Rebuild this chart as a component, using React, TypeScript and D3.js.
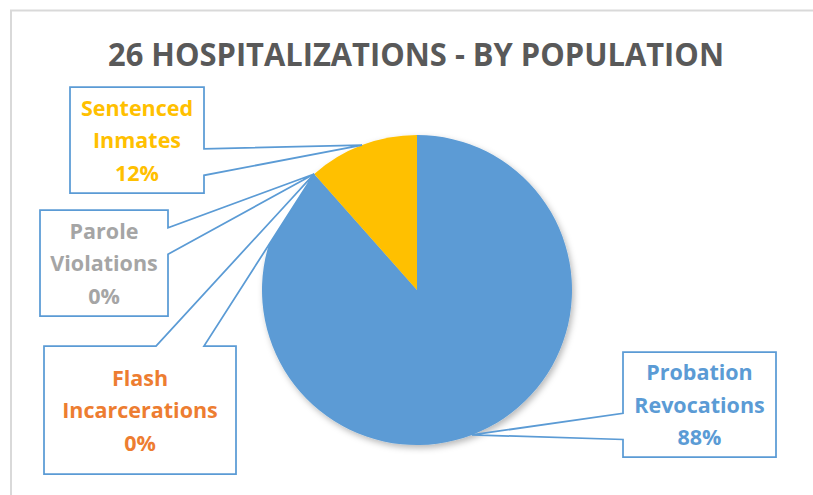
import React from "react";
import * as d3 from "d3";

const title = "26 HOSPITALIZATIONS - BY POPULATION";
const categories = ["Probation Revocations", "Flash Incarcerations", "Parole Violations", "Sentenced Inmates"];
const labelLines = [["Probation", "Revocations"], ["Flash", "Incarcerations"], ["Parole", "Violations"], ["Sentenced", "Inmates"]];
const values = [23, 0, 0, 3];
const sliceColors = ["#5B9BD5", "#ED7D31", "#A5A5A5", "#FFC000"];

// callout box layout (x, y, w, h)
const boxes = [
  { x: 623, y: 352, w: 153, h: 105 },
  { x: 44, y: 346, w: 192, h: 128 },
  { x: 40, y: 210, w: 128, h: 106 },
  { x: 70, y: 87, w: 134, h: 106 },
];

const W = 813;
const H = 495;
const cx = 417;
const cy = 290;
const R = 155;
const lineGap = 32.5;

function calloutPath(b: { x: number; y: number; w: number; h: number }, tx: number, ty: number) {
  const hc = b.x + b.w / 2;
  const vc = b.y + b.h / 2;
  const dx = tx - hc;
  const dy = ty - vc;
  const nx = Math.abs(dx) / b.w;
  const ny = Math.abs(dy) / b.h;
  const x0 = b.x, y0 = b.y, x1 = b.x + b.w, y1 = b.y + b.h;
  const fx = dx > 0 ? [7, 10] : [2, 5];
  const fy = dy > 0 ? [7, 10] : [2, 5];
  const xa = b.x + (b.w * fx[0]) / 12, xb = b.x + (b.w * fx[1]) / 12;
  const ya = b.y + (b.h * fy[0]) / 12, yb = b.y + (b.h * fy[1]) / 12;
  let pts: [number, number][];
  if (nx >= ny) {
    if (dx > 0) {
      pts = [[x0, y0], [x1, y0], [x1, ya], [tx, ty], [x1, yb], [x1, y1], [x0, y1]];
    } else {
      pts = [[x0, y0], [x1, y0], [x1, y1], [x0, y1], [x0, yb], [tx, ty], [x0, ya]];
    }
  } else {
    if (dy < 0) {
      pts = [[x0, y0], [xa, y0], [tx, ty], [xb, y0], [x1, y0], [x1, y1], [x0, y1]];
    } else {
      pts = [[x0, y0], [x1, y0], [x1, y1], [xb, y1], [tx, ty], [xa, y1], [x0, y1]];
    }
  }
  return "M" + pts.map((p) => p[0].toFixed(1) + "," + p[1].toFixed(1)).join("L") + "Z";
}

export default function App() {
  const total = d3.sum(values);
  const pie = d3.pie<number>().sort(null).value((d) => d);
  const arcs = pie(values);
  const arc = d3.arc<d3.PieArcDatum<number>>().innerRadius(0).outerRadius(R);
  const pct = d3.format(".0%");

  return (
    <svg width={W} height={H} style={{ position: "absolute", left: 0, top: 0, background: "#fff" }}
      fontFamily="'Open Sans', sans-serif">
      <defs>
        <filter id="shadow" x="-20%" y="-20%" width="140%" height="140%">
          <feDropShadow dx="2" dy="3" stdDeviation="3" floodColor="#000" floodOpacity="0.28" />
        </filter>
      </defs>
      <rect x={0} y={0} width={W} height={H} fill="#fff" />
      <rect x={11} y={10.5} width={W + 20} height={H + 20} fill="none" stroke="#D9D9D9" strokeWidth={2} />
      <text x={416} y={66} textAnchor="middle" fontSize={32} fontWeight={700} fill="#595959"
        textLength={616} lengthAdjust="spacingAndGlyphs">{title}</text>
      <g transform={`translate(${cx},${cy})`} filter="url(#shadow)">
        {arcs.map((a, i) => (
          <path key={categories[i]} d={arc(a) || ""} fill={sliceColors[i]} />
        ))}
      </g>
      {arcs.map((a, i) => {
        const mid = (a.startAngle + a.endAngle) / 2;
        const tx = cx + R * Math.sin(mid);
        const ty = cy - R * Math.cos(mid);
        const b = boxes[i];
        const lines = [...labelLines[i], pct(values[i] / total)];
        const hc = b.x + b.w / 2;
        const vc = b.y + b.h / 2;
        return (
          <g key={"lab" + i}>
            <path d={calloutPath(b, tx, ty)} fill="#fff" stroke="#5B9BD5" strokeWidth={1.75} strokeLinejoin="miter" />
            {lines.map((ln, j) => (
              <text key={j} x={hc} y={vc + (j - 1) * lineGap + 8} textAnchor="middle" fontSize={21.5}
                fontWeight={700} fill={sliceColors[i]}>{ln}</text>
            ))}
          </g>
        );
      })}
    </svg>
  );
}
